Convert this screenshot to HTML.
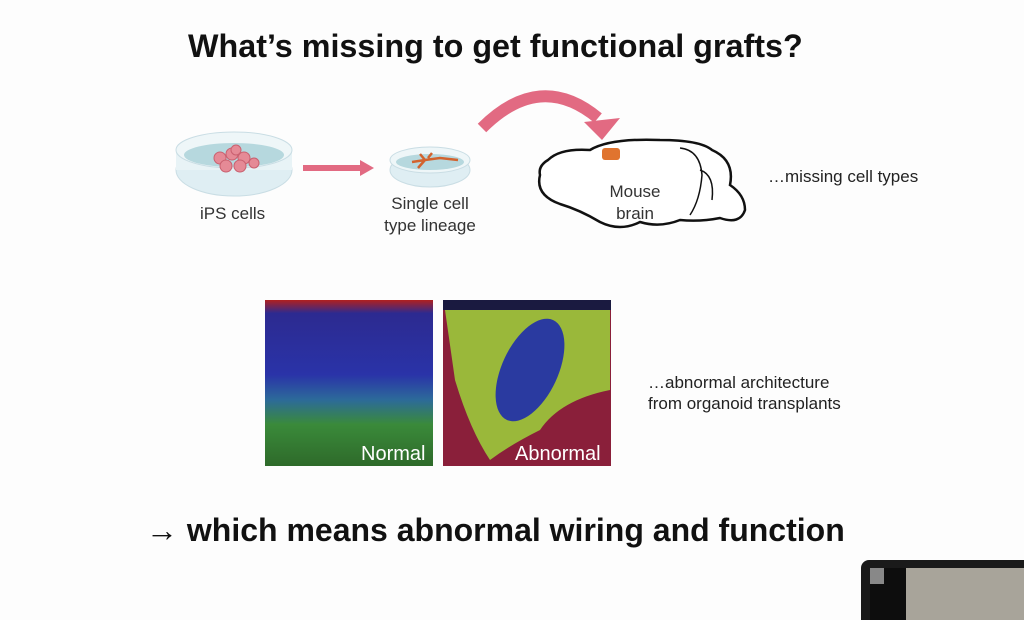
<!DOCTYPE html>
<html><head><style>
body{margin:0;width:1024px;height:620px;background:#fdfdfd;position:relative;overflow:hidden;font-family:"Liberation Sans",Arial,sans-serif;}
.t{position:absolute;color:#111;white-space:nowrap;}
</style></head><body>
<div class="t" style="left:188px;top:28px;font-size:32px;font-weight:bold;transform:scaleX(1.01);transform-origin:left">What’s missing to get functional grafts?</div>
<svg width="1024" height="620" style="position:absolute;left:0;top:0">
<ellipse cx="234" cy="170" rx="58" ry="26" fill="#dfeef3" stroke="#c9dde4"/>
<rect x="176" y="150" width="116" height="20" fill="#e8f3f6"/>
<ellipse cx="234" cy="150" rx="58" ry="18" fill="#eef6f8" stroke="#c9dde4"/>
<ellipse cx="234" cy="155" rx="50" ry="12" fill="#b6d8de"/>
<g fill="#e58a96" stroke="#c9606f">
<circle cx="220" cy="158" r="6"/><circle cx="232" cy="154" r="6"/><circle cx="244" cy="158" r="6"/><circle cx="226" cy="166" r="6"/><circle cx="240" cy="166" r="6"/><circle cx="254" cy="163" r="5"/><circle cx="236" cy="150" r="5"/>
</g>
<rect x="303" y="165" width="58" height="6" fill="#e26a82"/>
<polygon points="360,160 374,168 360,176" fill="#e26a82"/>
<ellipse cx="430" cy="170" rx="40" ry="17" fill="#dfeef3" stroke="#c9dde4"/>
<ellipse cx="430" cy="160" rx="40" ry="13" fill="#eef6f8" stroke="#c9dde4"/>
<ellipse cx="430" cy="162" rx="34" ry="8" fill="#b6d8de"/>
<path d="M412 162 L425 160 L440 158 L458 160 M425 160 L420 154 M425 160 L418 168 M428 158 L432 153" stroke="#d2632e" stroke-width="2.5" fill="none"/>
<path d="M482 128 Q540 70 598 118" stroke="#e26a82" stroke-width="12" fill="none"/>
<polygon points="584,122 620,118 602,140" fill="#e26a82"/>
<path d="M548 160 Q560 148 590 150 Q610 138 660 140 Q700 140 712 150 Q735 160 730 185 Q745 195 745 210 Q740 225 720 218 Q700 222 680 220 Q660 228 640 222 Q620 232 600 222 Q580 210 560 204 Q535 195 540 175 Q538 166 548 160 Z" fill="#fff" stroke="#111" stroke-width="2.5"/>
<path d="M680 148 Q700 150 702 175 Q700 200 690 215 M700 170 Q715 175 712 200" stroke="#111" stroke-width="1.5" fill="none"/>
<rect x="602" y="148" width="18" height="12" rx="3" fill="#e0742f"/>
<defs>
<linearGradient id="n" x1="0" y1="0" x2="0" y2="1">
<stop offset="0" stop-color="#b02020"/><stop offset=".08" stop-color="#2c2a90"/><stop offset=".45" stop-color="#2a33a8"/><stop offset=".6" stop-color="#2c6a9a"/><stop offset=".75" stop-color="#3a8a3a"/><stop offset="1" stop-color="#2e6a2a"/></linearGradient>
</defs>
<rect x="265" y="300" width="168" height="166" fill="url(#n)"/>
<rect x="443" y="300" width="168" height="166" fill="#8a1f3a"/>
<path d="M445 310 Q520 300 610 310 L610 390 Q560 400 540 430 Q510 445 490 460 Q470 430 455 380 Z" fill="#9ab83a"/>
<ellipse cx="530" cy="370" rx="28" ry="55" transform="rotate(25 530 370)" fill="#2a3aa0"/>
<rect x="443" y="300" width="168" height="10" fill="#1a1a40"/>
<rect x="861" y="560" width="170" height="70" rx="8" fill="#1a1a1a"/>
<rect x="870" y="568" width="160" height="60" fill="#a8a49a"/>
<rect x="870" y="568" width="36" height="60" fill="#0d0d0d"/>
<rect x="870" y="568" width="14" height="16" fill="#888"/>
</svg>
<div class="t" style="left:200px;top:204px;font-size:17px;color:#333">iPS cells</div>
<div class="t" style="left:374px;top:193px;font-size:17px;color:#333;text-align:center;width:112px;line-height:22px;white-space:normal">Single cell type lineage</div>
<div class="t" style="left:597px;top:181px;font-size:17px;color:#333;text-align:center;width:76px;line-height:22px;white-space:normal">Mouse brain</div>
<div class="t" style="left:768px;top:167px;font-size:17px;color:#222">…missing cell types</div>
<div class="t" style="left:648px;top:372px;font-size:17px;color:#222;line-height:21px">…abnormal architecture<br>from organoid transplants</div>
<div class="t" style="left:361px;top:443px;font-size:20px;color:#fff">Normal</div>
<div class="t" style="left:515px;top:443px;font-size:20px;color:#fff">Abnormal</div>
<div class="t" style="left:146px;top:512px;font-size:32px;font-weight:bold;">→ which means abnormal wiring and function</div>
</body></html>
